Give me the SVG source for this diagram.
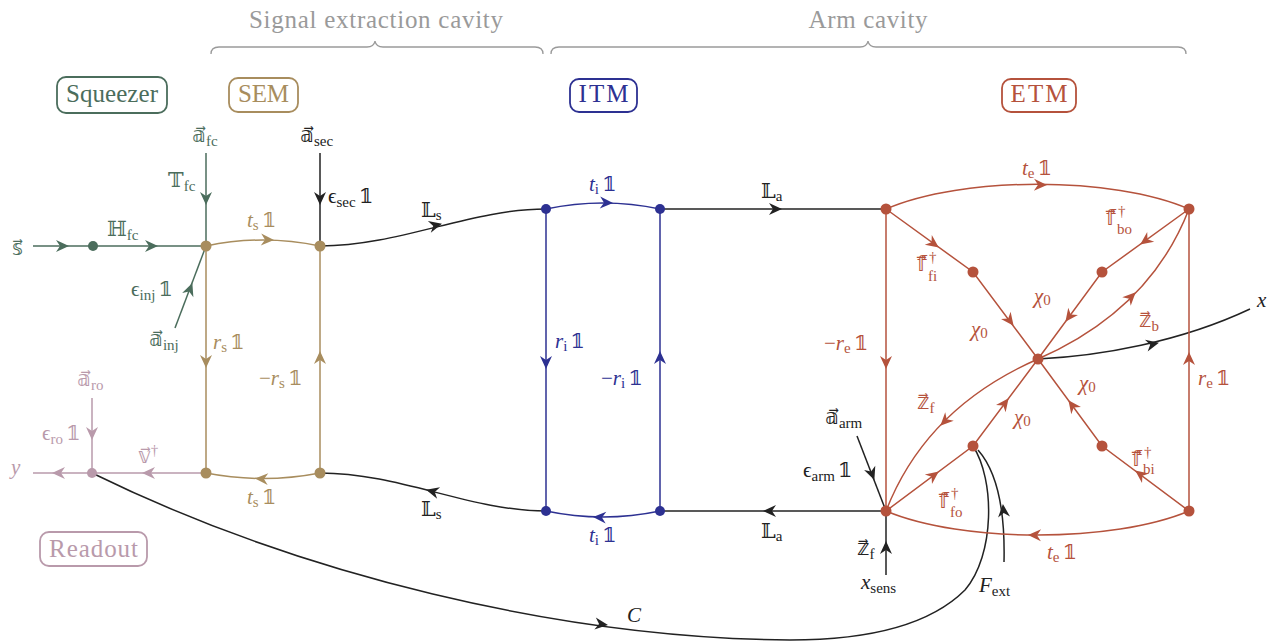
<svg xmlns="http://www.w3.org/2000/svg" width="1276" height="641" viewBox="0 0 1276 641" font-family="'Liberation Serif', 'DejaVu Serif', serif">
<defs>
<style>
text{font-family:"Liberation Serif","DejaVu Serif","DejaVu Sans",serif;font-size:21px}
.sub{font-size:15px}
.i{font-style:italic}
.bx{font-size:25px}
.hd{font-size:25px;fill:#9a9a9a}
.G{fill:#4b6d5c}.T{fill:#a88d5e}.B{fill:#2d3192}.R{fill:#b5523c}.M{fill:#b99aab}.K{fill:#222}
.sG{stroke:#4b6d5c}.sT{stroke:#a88d5e}.sB{stroke:#2d3192}.sR{stroke:#b5523c}.sM{stroke:#b99aab}.sK{stroke:#222}
.e{fill:none;stroke-width:1.5}
.br{fill:none;stroke:#9a9a9a;stroke-width:1.3}
.box{fill:#fff;stroke-width:1.8}
</style>
<path id="ah" d="M1,0 L-12,-6 L-8,0 L-12,6 Z"/>
</defs>
<rect width="1276" height="641" fill="#fff"/>

<g id="headers">
<text x="376" y="28" text-anchor="middle" class="hd" textLength="254">Signal extraction cavity</text>
<path class="br" d="M211,54 q0,-7 8,-7 H367 q7,0 8,-6 q1,6 8,6 H535 q8,0 8,7"/>
<text x="868" y="28" text-anchor="middle" class="hd" textLength="119">Arm cavity</text>
<path class="br" d="M551,54 q0,-7 8,-7 H860 q7,0 8,-6 q1,6 8,6 H1178 q8,0 8,7"/>
</g>

<g id="squeezer"><rect x="57" y="77" width="110" height="36" rx="9" class="box sG"/><text x="112" y="102" text-anchor="middle" class="bx G" textLength="92">Squeezer</text></g>
<g id="sem"><rect x="229" y="78" width="69" height="34" rx="9" class="box sT"/><text x="263.5" y="102" text-anchor="middle" class="bx T" textLength="51">SEM</text></g>
<g id="itm"><rect x="570" y="79" width="67" height="33" rx="9" class="box sB"/><text x="603.5" y="102" text-anchor="middle" class="bx B" textLength="50">ITM</text></g>
<g id="etm"><rect x="1002" y="79" width="74" height="33" rx="9" class="box sR"/><text x="1039" y="102" text-anchor="middle" class="bx R" textLength="57">ETM</text></g>
<g id="readout"><rect x="40" y="532" width="107" height="34" rx="9" class="box sM"/><text x="93.5" y="557" text-anchor="middle" class="bx M" textLength="89">Readout</text></g>

<g id="connectors">
<!-- green -->
<path class="e sG" d="M33,246 H206"/>
<path class="e sG" d="M206,153 V246"/>
<path class="e sG" d="M175,328 L206,246"/>
<!-- tan -->
<path class="e sT" d="M206,246 Q263,234 320,246"/>
<path class="e sT" d="M206,246 V473"/>
<path class="e sT" d="M320,473 V246"/>
<path class="e sT" d="M320,473 Q263,484 206,473"/>
<!-- mauve -->
<path class="e sM" d="M206,473 H33"/>
<path class="e sM" d="M92,398 V473"/>
<!-- black -->
<path class="e sK" d="M320,153 V246"/>
<path class="e sK" d="M320,246 C400,246 470,209 546,209"/>
<path class="e sK" d="M546,511 C470,511 400,473 320,473"/>
<path class="e sK" d="M660,209 H886"/>
<path class="e sK" d="M886,511 H660"/>
<path class="e sK" d="M857,436 L886,511"/>
<path class="e sK" d="M886,575 V511"/>
<path class="e sK" d="M1038,359 C1100,356 1180,342 1250,309"/>
<path class="e sK" d="M92,473 C300,575 560,638 790,640 C880,640 935,620 965,590 C995,555 995,480 973,446"/>
<path class="e sK" d="M1004,562 C1005,520 1000,475 978,450"/>
<!-- blue -->
<path class="e sB" d="M546,209 Q603,197 660,209"/>
<path class="e sB" d="M546,209 V511"/>
<path class="e sB" d="M660,511 V209"/>
<path class="e sB" d="M660,511 Q603,523 546,511"/>
<!-- red -->
<path class="e sR" d="M886,209 C962,176 1113,176 1189,209"/>
<path class="e sR" d="M886,209 V511"/>
<path class="e sR" d="M1189,511 V209"/>
<path class="e sR" d="M1189,511 C1113,543 962,543 886,511"/>
<path class="e sR" d="M886,209 L973,272 L1038,359"/>
<path class="e sR" d="M1189,209 L1102,272 L1038,359"/>
<path class="e sR" d="M886,511 L973,446 L1038,359"/>
<path class="e sR" d="M1189,511 L1102,446 L1038,359"/>
<path class="e sR" d="M1038,359 Q1150,310 1189,209"/>
<path class="e sR" d="M1038,359 Q926,408 886,511"/>

<!-- arrowheads -->
<g class="G">
<use href="#ah" transform="translate(68,246)"/>
<use href="#ah" transform="translate(157,246)"/>
<use href="#ah" transform="translate(206,204) rotate(90)"/>
<use href="#ah" transform="translate(192,284) rotate(-69.3)"/>
</g>
<g class="T">
<use href="#ah" transform="translate(273,240) rotate(2)"/>
<use href="#ah" transform="translate(206,367) rotate(90)"/>
<use href="#ah" transform="translate(320,352) rotate(-90)"/>
<use href="#ah" transform="translate(256,478.5) rotate(183)"/>
</g>
<g class="M">
<use href="#ah" transform="translate(92,439) rotate(90)"/>
<use href="#ah" transform="translate(143,473) rotate(180)"/>
<use href="#ah" transform="translate(53,473) rotate(180)"/>
</g>
<g class="K">
<use href="#ah" transform="translate(320,204) rotate(90)"/>
<use href="#ah" transform="translate(441,224) rotate(-14)"/>
<use href="#ah" transform="translate(427,490) rotate(-165.6)"/>
<use href="#ah" transform="translate(781,209)"/>
<use href="#ah" transform="translate(764,511) rotate(180)"/>
<use href="#ah" transform="translate(874,479) rotate(68.9)"/>
<use href="#ah" transform="translate(886,542) rotate(-90)"/>
<use href="#ah" transform="translate(1158,343) rotate(-13)"/>
<use href="#ah" transform="translate(607,625) rotate(7)"/>
<use href="#ah" transform="translate(1003,505) rotate(-95)"/>
</g>
<g class="B">
<use href="#ah" transform="translate(612,203) rotate(2)"/>
<use href="#ah" transform="translate(546,368) rotate(90)"/>
<use href="#ah" transform="translate(660,352) rotate(-90)"/>
<use href="#ah" transform="translate(594,517) rotate(183)"/>
</g>
<g class="R">
<use href="#ah" transform="translate(1046,185) rotate(1)"/>
<use href="#ah" transform="translate(886,368) rotate(90)"/>
<use href="#ah" transform="translate(1189,353) rotate(-90)"/>
<use href="#ah" transform="translate(1029,535) rotate(181)"/>
<use href="#ah" transform="translate(938,247) rotate(35.9)"/>
<use href="#ah" transform="translate(1013,325) rotate(53.2)"/>
<use href="#ah" transform="translate(1141,244) rotate(144.1)"/>
<use href="#ah" transform="translate(1066,321) rotate(126.3)"/>
<use href="#ah" transform="translate(1135,293) rotate(-44.8)"/>
<use href="#ah" transform="translate(941,425) rotate(135)"/>
<use href="#ah" transform="translate(938,472) rotate(-36.8)"/>
<use href="#ah" transform="translate(1008,399) rotate(-53.2)"/>
<use href="#ah" transform="translate(1136,471) rotate(-143.2)"/>
<use href="#ah" transform="translate(1069,401) rotate(-126.3)"/>
</g>

<!-- labels -->
<g id="labels">
<text x="12" y="255" class="G">𝕤⃗</text>
<text x="107" y="236" class="G">ℍ<tspan class="sub" dy="4">fc</tspan></text>
<text x="192" y="142" class="G">𝕒⃗<tspan class="sub" dy="4">fc</tspan></text>
<text x="168" y="187" class="G">𝕋<tspan class="sub" dy="4">fc</tspan></text>
<text x="131" y="296" class="G">ϵ<tspan class="sub" dy="4">inj</tspan><tspan dy="-4" dx="3">𝟙</tspan></text>
<text x="149" y="346" class="G">𝕒⃗<tspan class="sub" dy="4">inj</tspan></text>

<text x="247" y="227" class="T"><tspan class="i">t</tspan><tspan class="sub" dy="3">s</tspan><tspan dy="-3" dx="3">𝟙</tspan></text>
<text x="213" y="349" class="T"><tspan class="i">r</tspan><tspan class="sub" dy="3">s</tspan><tspan dy="-3" dx="3">𝟙</tspan></text>
<text x="259" y="385" class="T">−<tspan class="i">r</tspan><tspan class="sub" dy="3">s</tspan><tspan dy="-3" dx="3">𝟙</tspan></text>
<text x="247" y="504" class="T"><tspan class="i">t</tspan><tspan class="sub" dy="3">s</tspan><tspan dy="-3" dx="3">𝟙</tspan></text>

<text x="77" y="386" class="M">𝕒⃗<tspan class="sub" dy="4">ro</tspan></text>
<text x="42" y="440" class="M">ϵ<tspan class="sub" dy="4">ro</tspan><tspan dy="-4" dx="3">𝟙</tspan></text>
<text x="138" y="463" class="M">𝕧⃗<tspan class="sub" dy="-8">†</tspan></text>
<text x="11" y="474" class="M i">y</text>

<text x="300" y="142" class="K">𝕒⃗<tspan class="sub" dy="4">sec</tspan></text>
<text x="328" y="203" class="K">ϵ<tspan class="sub" dy="4">sec</tspan><tspan dy="-4" dx="3">𝟙</tspan></text>
<text x="421" y="217" class="K">𝕃<tspan class="sub" dy="3">s</tspan></text>
<text x="421" y="516" class="K">𝕃<tspan class="sub" dy="3">s</tspan></text>
<text x="761" y="198" class="K">𝕃<tspan class="sub" dy="3">a</tspan></text>
<text x="761" y="538" class="K">𝕃<tspan class="sub" dy="3">a</tspan></text>
<text x="825" y="424" class="K">𝕒⃗<tspan class="sub" dy="4">arm</tspan></text>
<text x="803" y="477" class="K">ϵ<tspan class="sub" dy="4">arm</tspan><tspan dy="-4" dx="3">𝟙</tspan></text>
<text x="857" y="555" class="K">𝕫⃗<tspan class="sub" dy="4">f</tspan></text>
<text x="861" y="589" class="K"><tspan class="i">x</tspan><tspan class="sub" dy="4">sens</tspan></text>
<text x="627" y="622" class="K i">C</text>
<text x="979" y="592" class="K"><tspan class="i">F</tspan><tspan class="sub" dy="4">ext</tspan></text>
<text x="1257" y="307" class="K i">x</text>

<text x="589" y="191" class="B"><tspan class="i">t</tspan><tspan class="sub" dy="3">i</tspan><tspan dy="-3" dx="3">𝟙</tspan></text>
<text x="555" y="348" class="B"><tspan class="i">r</tspan><tspan class="sub" dy="3">i</tspan><tspan dy="-3" dx="3">𝟙</tspan></text>
<text x="601" y="385" class="B">−<tspan class="i">r</tspan><tspan class="sub" dy="3">i</tspan><tspan dy="-3" dx="3">𝟙</tspan></text>
<text x="589" y="542" class="B"><tspan class="i">t</tspan><tspan class="sub" dy="3">i</tspan><tspan dy="-3" dx="3">𝟙</tspan></text>

<text x="1022" y="175" class="R"><tspan class="i">t</tspan><tspan class="sub" dy="3">e</tspan><tspan dy="-3" dx="3">𝟙</tspan></text>
<text x="824" y="350" class="R">−<tspan class="i">r</tspan><tspan class="sub" dy="3">e</tspan><tspan dy="-3" dx="3">𝟙</tspan></text>
<text x="1198" y="385" class="R"><tspan class="i">r</tspan><tspan class="sub" dy="3">e</tspan><tspan dy="-3" dx="3">𝟙</tspan></text>
<text x="1047" y="559" class="R"><tspan class="i">t</tspan><tspan class="sub" dy="3">e</tspan><tspan dy="-3" dx="3">𝟙</tspan></text>
<text x="917" y="271" class="R">𝕗⃗</text><text x="929" y="262" class="R sub">†</text><text x="928" y="281" class="R sub">fi</text>
<text x="1106" y="225" class="R">𝕗⃗</text><text x="1118" y="216" class="R sub">†</text><text x="1117" y="234" class="R sub">bo</text>
<text x="939" y="508" class="R">𝕗⃗</text><text x="951" y="498" class="R sub">†</text><text x="950" y="517" class="R sub">fo</text>
<text x="1132" y="466" class="R">𝕗⃗</text><text x="1144" y="457" class="R sub">†</text><text x="1143" y="474" class="R sub">bi</text>
<text x="971" y="336" class="R"><tspan class="i">χ</tspan><tspan class="sub" dy="2">0</tspan></text>
<text x="1034" y="303" class="R"><tspan class="i">χ</tspan><tspan class="sub" dy="2">0</tspan></text>
<text x="1014" y="424" class="R"><tspan class="i">χ</tspan><tspan class="sub" dy="2">0</tspan></text>
<text x="1079" y="390" class="R"><tspan class="i">χ</tspan><tspan class="sub" dy="2">0</tspan></text>
<text x="1139" y="327" class="R">𝕫⃗<tspan class="sub" dy="4">b</tspan></text>
<text x="917" y="409" class="R">𝕫⃗<tspan class="sub" dy="4">f</tspan></text>
</g>
</g>

<g id="nodes">
<g id="n-sqz" class="G"><circle cx="93" cy="246" r="5"/></g>
<g id="n-sem-tl" class="T"><circle cx="206" cy="246" r="5.5"/></g>
<g id="n-sem-tr" class="T"><circle cx="320" cy="246" r="5.5"/></g>
<g id="n-sem-bl" class="T"><circle cx="206" cy="473" r="5.5"/></g>
<g id="n-sem-br" class="T"><circle cx="320" cy="473" r="5.5"/></g>
<g id="n-ro" class="M"><circle cx="92" cy="473" r="5"/></g>
<g id="n-itm-tl" class="B"><circle cx="546" cy="209" r="5"/></g>
<g id="n-itm-tr" class="B"><circle cx="660" cy="209" r="5"/></g>
<g id="n-itm-bl" class="B"><circle cx="546" cy="511" r="5"/></g>
<g id="n-itm-br" class="B"><circle cx="660" cy="511" r="5"/></g>
<g id="n-etm-tl" class="R"><circle cx="886" cy="209" r="5.5"/></g>
<g id="n-etm-tr" class="R"><circle cx="1189" cy="209" r="5.5"/></g>
<g id="n-etm-bl" class="R"><circle cx="886" cy="511" r="5.5"/></g>
<g id="n-etm-br" class="R"><circle cx="1189" cy="511" r="5.5"/></g>
<g id="n-fi" class="R"><circle cx="973" cy="272" r="5.5"/></g>
<g id="n-bo" class="R"><circle cx="1102" cy="272" r="5.5"/></g>
<g id="n-c" class="R"><circle cx="1038" cy="359" r="5.5"/></g>
<g id="n-fo" class="R"><circle cx="973" cy="446" r="5.5"/></g>
<g id="n-bi" class="R"><circle cx="1102" cy="446" r="5.5"/></g>
</g>
</svg>
